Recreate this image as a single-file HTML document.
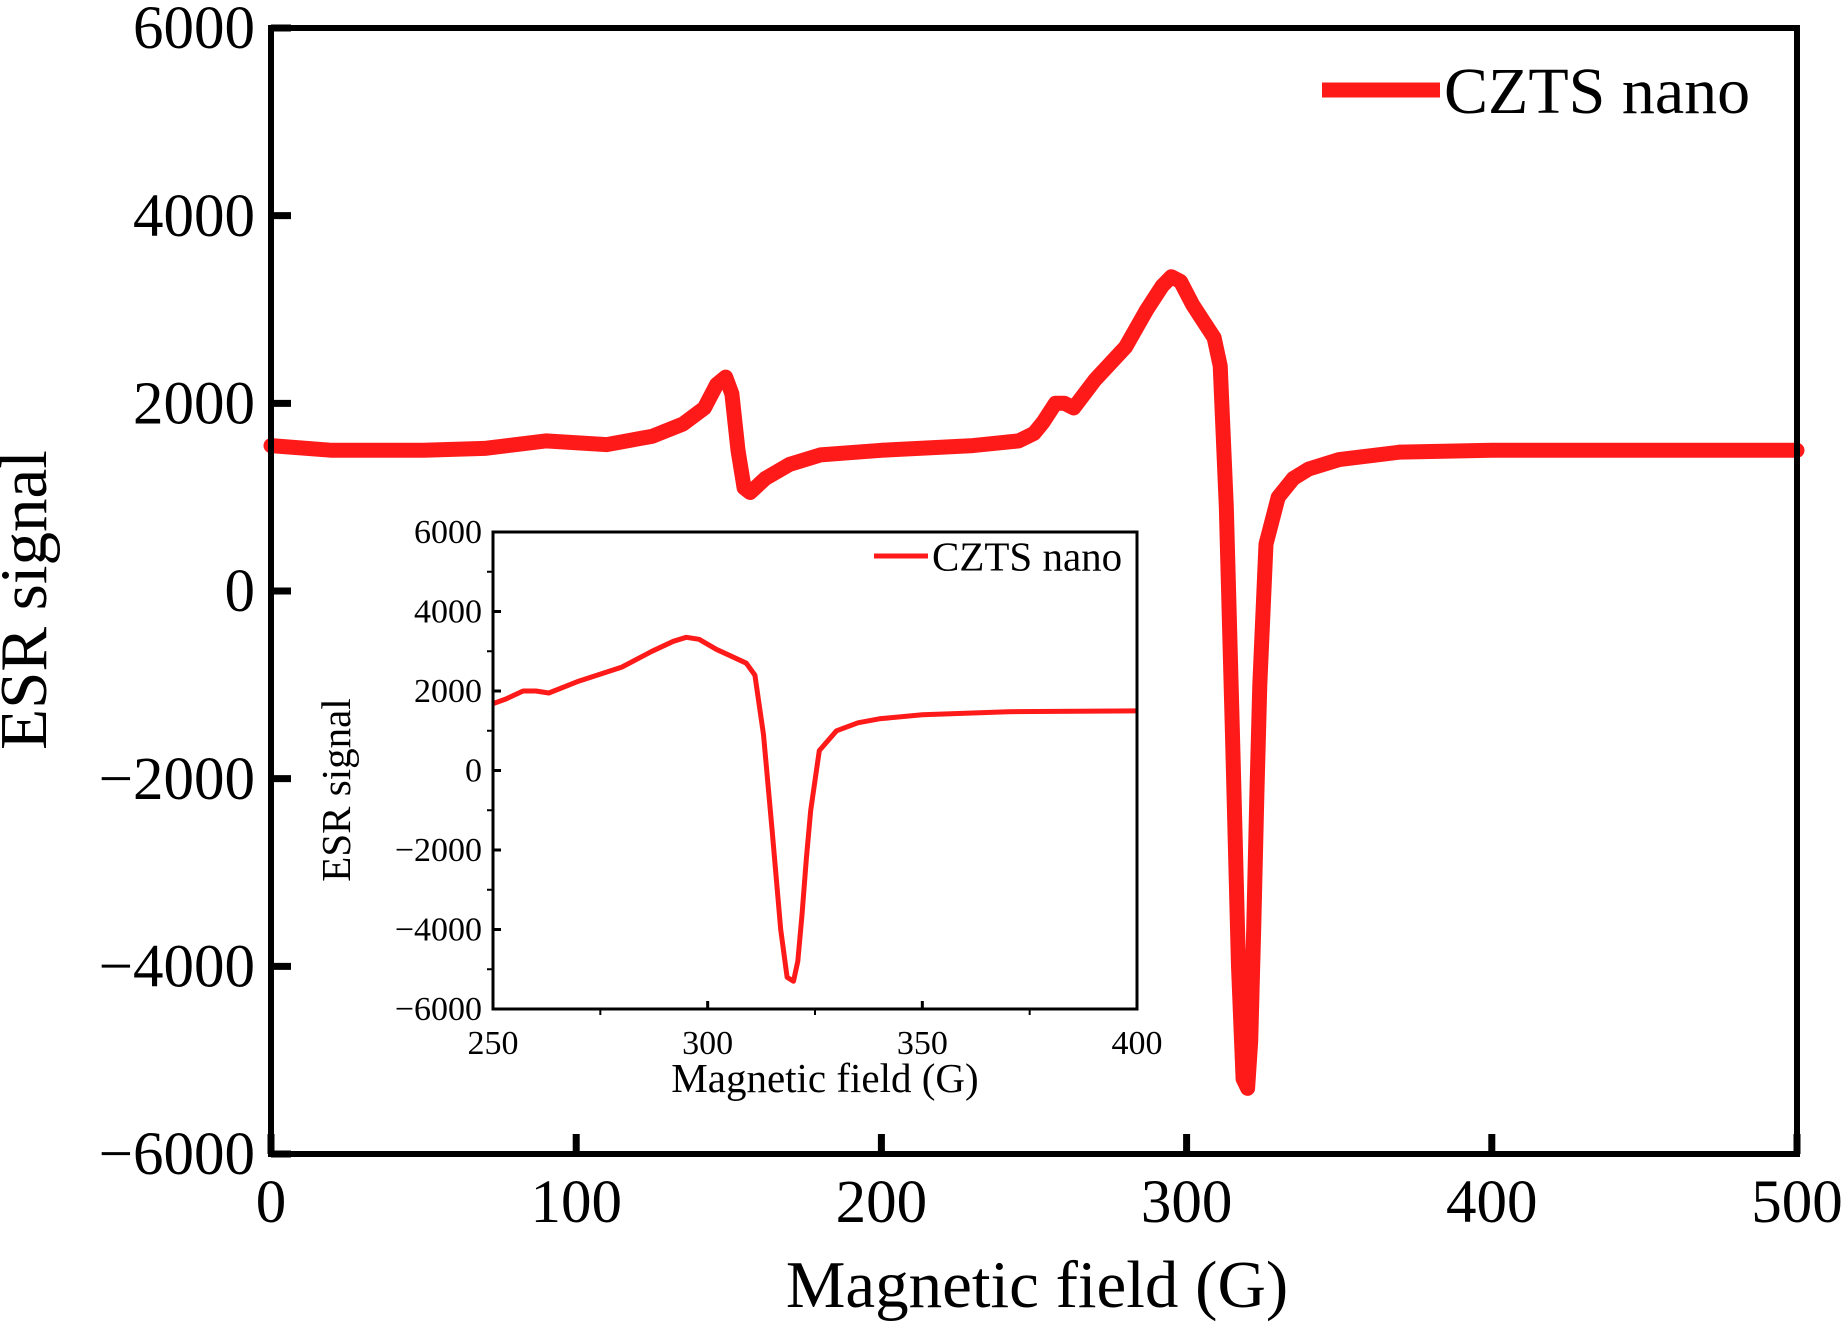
<!DOCTYPE html>
<html><head><meta charset="utf-8"><style>
html,body{margin:0;padding:0;background:#fff;}
svg{display:block;font-family:"Liberation Serif",serif;}
</style></head><body>
<svg id="chart" width="1848" height="1322" viewBox="0 0 1848 1322">
<defs><clipPath id="insetClip"><rect x="493" y="532" width="644" height="477"/></clipPath></defs>
<g id="main"></g>
<rect x="493" y="532" width="644" height="477" fill="#fff"/>
<g id="inset"></g>
</svg>
<script>
const fieldG = [0,20,50,70,90,110,125,135,142,146,149,151,153,155,157,162,170,180,200,230,245,250,253,257,260,263,270,280,287,292,295,298,302,306,309,311,313,315,317,318.5,320,321,322,323,324,326,330,335,340,350,370,400,450,500];
const esrSignal = [1550,1500,1500,1520,1600,1560,1650,1780,1950,2200,2280,2100,1500,1100,1050,1200,1350,1450,1500,1550,1600,1680,1800,2000,2000,1950,2250,2600,3000,3250,3350,3300,3050,2850,2700,2400,900,-1500,-4000,-5200,-5300,-4800,-3600,-2200,-1000,500,1000,1200,1300,1400,1480,1500,1500,1500];
const mainXTicks = [0,100,200,300,400,500];
const mainYTicks = [6000,4000,2000,0,-2000,-4000,-6000];
const insetXTicks = [250,300,350,400];
const insetYTicks = [6000,4000,2000,0,-2000,-4000,-6000];
const seriesName = "CZTS nano";

const NS="http://www.w3.org/2000/svg";
function mk(parent,tag,attrs,text){const e=document.createElementNS(NS,tag);for(const k in attrs)e.setAttribute(k,attrs[k]);if(text!==undefined)e.textContent=text;parent.appendChild(e);return e;}

function drawPlot(g,P){
  const sx=v=>P.x0+(v-P.xmin)/(P.xmax-P.xmin)*(P.x1-P.x0);
  const sy=v=>P.y1-(v-P.ymin)/(P.ymax-P.ymin)*(P.y1-P.y0);
  let d="";
  fieldG.forEach((x,i)=>{d+=(i?"L":"M")+sx(x).toFixed(1)+","+sy(esrSignal[i]).toFixed(1);});
  const path=mk(g,"path",{d:d,fill:"none",stroke:"#ff1a1a","stroke-width":P.lw,"stroke-linejoin":"round","stroke-linecap":"round"});
  if(P.clip)path.setAttribute("clip-path","url(#insetClip)");
  
  
  const fr=mk(g,"rect",{x:P.x0,y:P.y0,width:P.x1-P.x0,height:P.y1-P.y0,fill:"none",stroke:"#000","stroke-width":P.fw});
  
  
  P.xt.forEach(v=>{
    const x=sx(v);
    const t=mk(g,"line",{x1:x,x2:x,y1:P.y1,y2:P.y1-P.tl,stroke:"#000","stroke-width":P.tw});
    
    
    const l=mk(g,"text",{x:x,y:P.xly,"font-size":P.fs,"text-anchor":"middle"},String(v));
    
    
  });
  if(P.minor){
    for(let i=0;i<P.xt.length-1;i++){const x=sx((P.xt[i]+P.xt[i+1])/2);
      const m=mk(g,"line",{x1:x,x2:x,y1:P.y1,y2:P.y1+6,stroke:"#000","stroke-width":2});
      
      }
    for(let i=0;i<P.yt.length-1;i++){const y=sy((P.yt[i]+P.yt[i+1])/2);
      const m=mk(g,"line",{x1:P.x0,x2:P.x0-6,y1:y,y2:y,stroke:"#000","stroke-width":2});
      
      }
  }
  P.yt.forEach(v=>{
    const y=sy(v);
    const t=mk(g,"line",{x1:P.x0,x2:P.x0+P.tl,y1:y,y2:y,stroke:"#000","stroke-width":P.tw});
    
    
    const l=mk(g,"text",{x:P.ylx,y:y+P.fs*0.33,"font-size":P.fs,"text-anchor":"end"},v<0?"\u2212"+Math.abs(v):String(v));
    
    
  });
  const xt=mk(g,"text",{x:P.xtx,y:P.xty,"font-size":P.tfs,"text-anchor":"middle"},"Magnetic field (G)");
  
  
  const yt=mk(g,"text",{x:0,y:0,"font-size":P.tfs,"text-anchor":"middle",transform:`translate(${P.ytx},${P.yty}) rotate(-90)`},"ESR signal");
  
  
  const lg=mk(g,"g",{});
  
  
  mk(lg,"line",{x1:P.lgx0,x2:P.lgx1,y1:P.lgy,y2:P.lgy,stroke:"#ff1a1a","stroke-width":P.lw});
  mk(lg,"text",{x:P.lgx1+4,y:P.lgy+P.lfs*0.35,"font-size":P.lfs},seriesName);
}
drawPlot(document.getElementById("main"),{prefix:"",x0:271,x1:1797,y0:28,y1:1154,xmin:0,xmax:500,ymin:-6000,ymax:6000,
  lw:15,fw:6,tw:7,tl:20,fs:61,tfs:67,xt:mainXTicks,yt:mainYTicks,xly:1222,ylx:255,
  xtx:1037,xty:1307,ytx:46,yty:600,lgx0:1322,lgx1:1440,lgy:90,lfs:66,minor:false});
drawPlot(document.getElementById("inset"),{prefix:"inset-",clip:true,x0:493,x1:1137,y0:532,y1:1009,xmin:250,xmax:400,ymin:-6000,ymax:6000,
  lw:5,fw:3,tw:3,tl:8,fs:34,tfs:41,xt:insetXTicks,yt:insetYTicks,xly:1054,ylx:482,
  xtx:825,xty:1092,ytx:350,yty:790,lgx0:874,lgx1:928,lgy:556,lfs:41,minor:true});
</script>
</body></html>
